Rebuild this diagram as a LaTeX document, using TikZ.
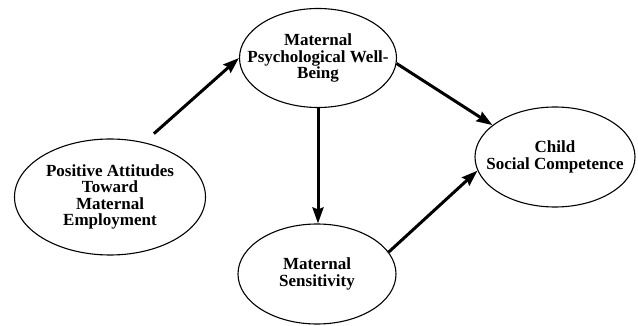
\documentclass[tikz,border=0pt]{standalone}
\usepackage{fontspec}
\setmainfont{Liberation Serif}
\usetikzlibrary{shapes.geometric,arrows.meta}

\begin{document}
\begin{tikzpicture}[x=1pt,y=1pt]
\tikzstyle{every node}+=[inner sep=0pt]
\tikzstyle{var}=[draw=black,ellipse,line width=1.1pt,inner xsep=-25pt,align=center,font=\fontsize{17}{16.5}\selectfont\bfseries]
\tikzstyle{effect}=[line width=3pt,-{Stealth[length=16pt,width=11pt,inset=2pt]}]
\useasboundingbox (0,0) rectangle (638,-326);
\node [var,minimum width=191pt,minimum height=116pt] (att) at (110,-197) {Positive Attitudes\\Toward\\Maternal\\Employment};
\node [var,minimum width=157pt,minimum height=99pt] (wb) at (318,-58) {Maternal\\Psychological Well-\\Being};
\node [var,minimum width=158pt,minimum height=100pt] (sens) at (317,-274) {Maternal\\Sensitivity};
\node [var,minimum width=160pt,minimum height=100pt] (comp) at (555,-157) {Child\\Social Competence};
\draw [effect,shorten <=13pt] (att.58) -- (wb.west);
\draw [effect] (wb.-4) -- (comp.153);
\draw [effect] (wb.south) -- (wb.south |- sens.north);
\draw [effect] (sens.17) -- (comp.190);
\end{tikzpicture}
\end{document}
